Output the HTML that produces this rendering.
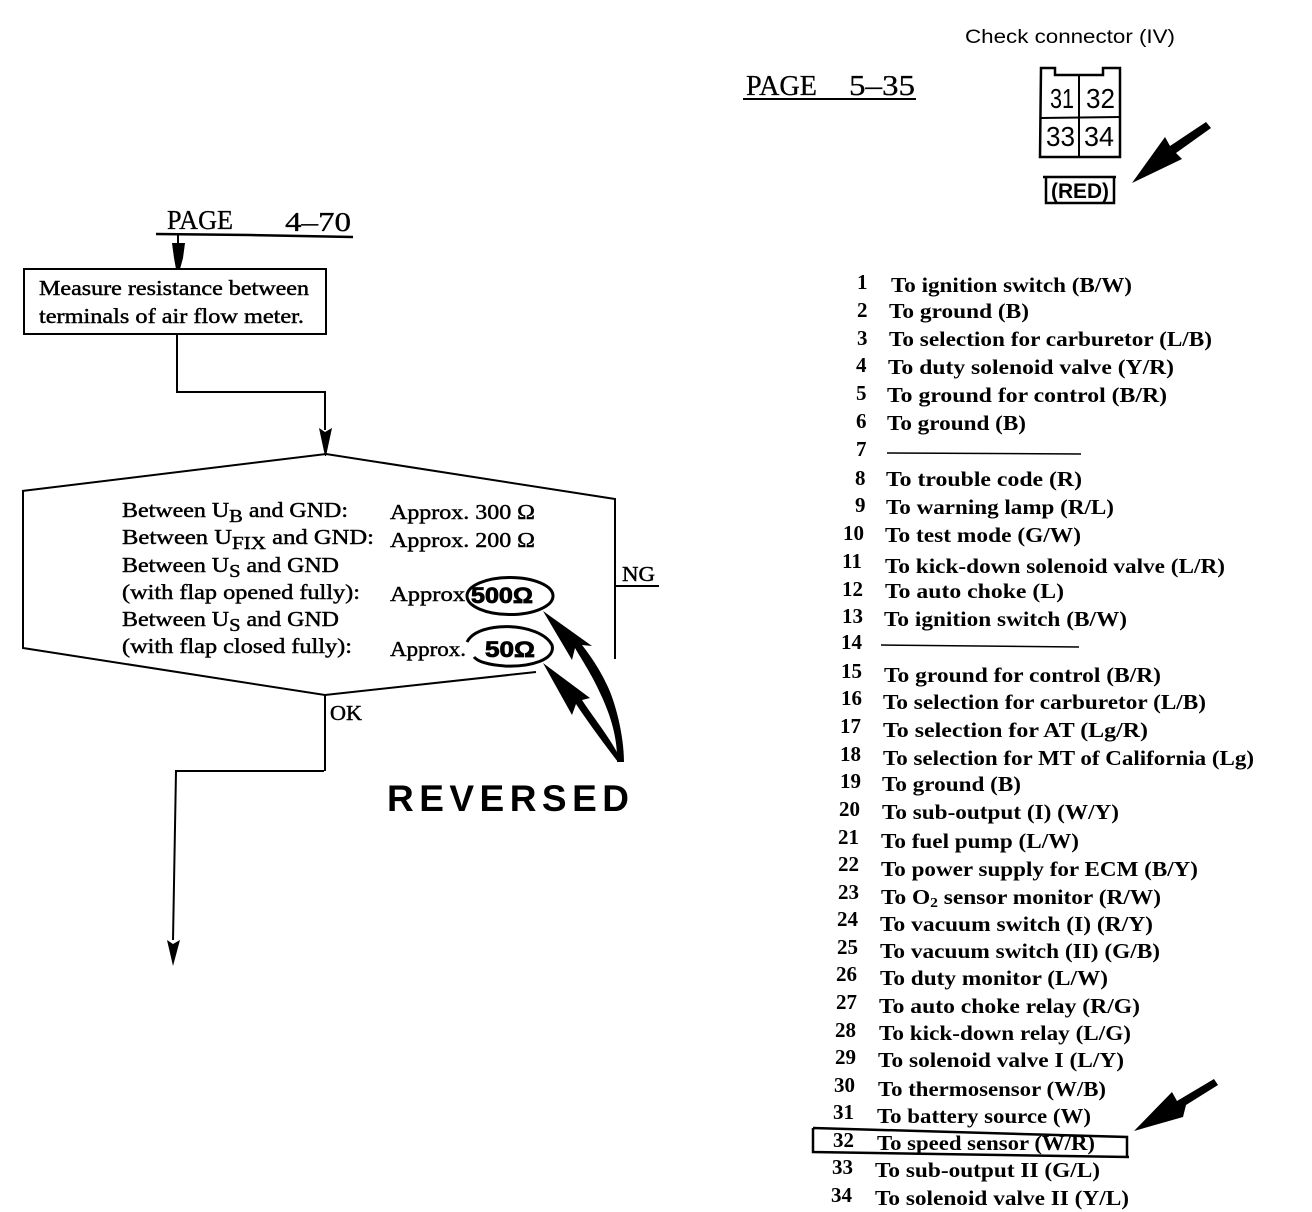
<!DOCTYPE html>
<html><head><meta charset="utf-8"><style>
html,body{margin:0;padding:0;background:#fff}
svg{display:block}
text{font-family:"Liberation Serif",serif;font-size:21px;fill:#000;stroke:none}
.l{font-size:21px;font-weight:bold;transform:translateY(1px)}
.n{font-size:21px;font-weight:bold}
.s{font-family:"Liberation Sans",sans-serif}
.f{font-size:21px;font-weight:normal;stroke:#000;stroke-width:.45px}
.sub{font-size:18px}
path,line,rect,ellipse{fill:none;stroke:#000;stroke-width:2}
.a{fill:#000;stroke:none}
</style></head><body>
<svg width="1312" height="1212" viewBox="0 0 1312 1212" xmlns="http://www.w3.org/2000/svg">
<!-- header right -->
<text class="s" x="965" y="43" style="font-size:19px" textLength="210" lengthAdjust="spacingAndGlyphs">Check connector (IV)</text>
<text x="746" y="95" style="font-size:28px;stroke:#000;stroke-width:.3px" textLength="71" lengthAdjust="spacingAndGlyphs">PAGE</text>
<text x="849" y="95" style="font-size:28px;stroke:#000;stroke-width:.3px" textLength="66" lengthAdjust="spacingAndGlyphs">5–35</text>
<line x1="743" y1="99" x2="916" y2="99"/>
<!-- connector -->
<path d="M1041 68H1055V75H1103V68H1120V157H1040Z" style="stroke-width:2.5"/>
<line x1="1041" y1="118" x2="1120" y2="117"/>
<line x1="1079" y1="76" x2="1079" y2="157"/>
<g style="stroke:#000;stroke-width:.9px">
<text class="s" x="1050" y="108" style="font-size:28px" textLength="24" lengthAdjust="spacingAndGlyphs">31</text>
<text class="s" x="1086" y="108" style="font-size:28px" textLength="29" lengthAdjust="spacingAndGlyphs">32</text>
<text class="s" x="1046" y="146" style="font-size:28px" textLength="29" lengthAdjust="spacingAndGlyphs">33</text>
<text class="s" x="1084" y="146" style="font-size:28px" textLength="30" lengthAdjust="spacingAndGlyphs">34</text>
</g>
<path d="M1043 177H1116M1046 177V203H1114V177" style="stroke-width:2.5"/>
<text class="s" x="1051" y="198" style="font-size:21px;font-weight:bold" textLength="58" lengthAdjust="spacingAndGlyphs">(RED)</text>
<path class="a" d="M1132 183L1165 137L1170 146L1206 122L1211 128L1176 153L1182 159Z"/>
<!-- flowchart -->
<text x="167" y="229" style="font-size:27px;stroke:#000;stroke-width:.3px" textLength="66" lengthAdjust="spacingAndGlyphs">PAGE</text>
<text x="285" y="231" style="font-size:27px;stroke:#000;stroke-width:.3px" textLength="66" lengthAdjust="spacingAndGlyphs">4–70</text>
<path d="M156 234L250 235L353 237" style="stroke-width:2.5"/>
<line x1="178" y1="235" x2="178" y2="248"/>
<path class="a" d="M172 243L185 243L183 258L180 269H176L174 258Z"/>
<rect x="24" y="269" width="302" height="65"/>
<text class="f" x="39" y="295" textLength="270" lengthAdjust="spacingAndGlyphs">Measure resistance between</text>
<text class="f" x="39" y="323" textLength="265" lengthAdjust="spacingAndGlyphs">terminals of air flow meter.</text>
<path d="M177 334V392H325V430"/>
<path class="a" d="M319 428L325 432L332 428L326 456H325Z"/>
<path d="M22 491L326 454L615 499V659"/>
<path d="M23 491V648L325 695L536 672"/>
<line x1="615" y1="586" x2="659" y2="586"/>
<text class="f" x="622" y="581" textLength="33" lengthAdjust="spacingAndGlyphs">NG</text>
<line x1="325" y1="695" x2="325" y2="771"/>
<text class="f" x="330" y="720" textLength="32" lengthAdjust="spacingAndGlyphs">OK</text>
<path d="M324 771L176 771L173 940"/>
<path class="a" d="M167 940L173 944L180 940L173 966Z"/>

<text class="f" x="122" y="517" textLength="226" lengthAdjust="spacingAndGlyphs">Between U<tspan class="sub" dy="5">B</tspan><tspan dy="-5"> and GND:</tspan></text>
<text class="f" x="122" y="544" textLength="252" lengthAdjust="spacingAndGlyphs">Between U<tspan class="sub" dy="5">FIX</tspan><tspan dy="-5"> and GND:</tspan></text>
<text class="f" x="122" y="572" textLength="217" lengthAdjust="spacingAndGlyphs">Between U<tspan class="sub" dy="5">S</tspan><tspan dy="-5"> and GND</tspan></text>
<text class="f" x="122" y="599" textLength="238" lengthAdjust="spacingAndGlyphs">(with flap opened fully):</text>
<text class="f" x="122" y="626" textLength="217" lengthAdjust="spacingAndGlyphs">Between U<tspan class="sub" dy="5">S</tspan><tspan dy="-5"> and GND</tspan></text>
<text class="f" x="122" y="653" textLength="230" lengthAdjust="spacingAndGlyphs">(with flap closed fully):</text>
<text class="f" x="390" y="519" textLength="145" lengthAdjust="spacingAndGlyphs">Approx. 300 Ω</text>
<text class="f" x="390" y="547" textLength="145" lengthAdjust="spacingAndGlyphs">Approx. 200 Ω</text>
<text class="f" x="390" y="601" textLength="75" lengthAdjust="spacingAndGlyphs">Approx</text>
<text class="f" x="390" y="656" textLength="76" lengthAdjust="spacingAndGlyphs">Approx.</text>
<text x="471" y="603" class="s" style="font-size:22px;font-weight:bold;stroke:#000;stroke-width:.8px" textLength="62" lengthAdjust="spacingAndGlyphs">500Ω</text>
<text x="485" y="657" class="s" style="font-size:22px;font-weight:bold;stroke:#000;stroke-width:.8px" textLength="50" lengthAdjust="spacingAndGlyphs">50Ω</text>
<ellipse cx="510" cy="596" rx="43" ry="18.5" style="stroke-width:3"/>
<path d="M467 642C478 620 540 622 552 645C556 660 530 667 505 666C490 665 478 662 474 657" style="stroke-width:3"/>
<!-- big arrows -->
<path class="a" d="M543 611L592 646L582 645C590 655 600 670 606 683C615 700 624 735 624 762L617 762C618 735 608 710 601 695C592 675 585 665 575 648L572 660Z"/>
<path class="a" d="M543 663L590 698L582 700C595 720 612 740 622 762L618 762C605 745 590 725 576 704L572 715Z"/>
<text x="387" y="811" class="s" style="font-size:37px;font-weight:bold" textLength="242">REVERSED</text>

<!-- list -->
<g>
<text class="n" x="857" y="289">1</text><text class="l" x="891" y="291" textLength="241" lengthAdjust="spacingAndGlyphs">To ignition switch (B/W)</text>
<text class="n" x="857" y="317">2</text><text class="l" x="889" y="317" textLength="140" lengthAdjust="spacingAndGlyphs">To ground (B)</text>
<text class="n" x="857" y="345">3</text><text class="l" x="889" y="345" textLength="323" lengthAdjust="spacingAndGlyphs">To selection for carburetor (L/B)</text>
<text class="n" x="856" y="372">4</text><text class="l" x="888" y="373" textLength="286" lengthAdjust="spacingAndGlyphs">To duty solenoid valve (Y/R)</text>
<text class="n" x="856" y="400">5</text><text class="l" x="887" y="401" textLength="280" lengthAdjust="spacingAndGlyphs">To ground for control (B/R)</text>
<text class="n" x="856" y="428">6</text><text class="l" x="887" y="429" textLength="139" lengthAdjust="spacingAndGlyphs">To ground (B)</text>
<text class="n" x="856" y="456">7</text><line x1="887" y1="453" x2="1081" y2="454" style="stroke-width:1.5"/>
<text class="n" x="855" y="485">8</text><text class="l" x="886" y="485" textLength="196" lengthAdjust="spacingAndGlyphs">To trouble code (R)</text>
<text class="n" x="855" y="512">9</text><text class="l" x="886" y="513" textLength="228" lengthAdjust="spacingAndGlyphs">To warning lamp (R/L)</text>
<text class="n" x="843" y="540">10</text><text class="l" x="885" y="541" textLength="196" lengthAdjust="spacingAndGlyphs">To test mode (G/W)</text>
<text class="n" x="842" y="568">11</text><text class="l" x="885" y="572" textLength="340" lengthAdjust="spacingAndGlyphs">To kick-down solenoid valve (L/R)</text>
<text class="n" x="842" y="596">12</text><text class="l" x="885" y="597" textLength="179" lengthAdjust="spacingAndGlyphs">To auto choke (L)</text>
<text class="n" x="842" y="623">13</text><text class="l" x="884" y="625" textLength="243" lengthAdjust="spacingAndGlyphs">To ignition switch (B/W)</text>
<text class="n" x="841" y="649">14</text><line x1="881" y1="645" x2="1079" y2="647" style="stroke-width:1.5"/>
<text class="n" x="841" y="678">15</text><text class="l" x="884" y="681" textLength="277" lengthAdjust="spacingAndGlyphs">To ground for control (B/R)</text>
<text class="n" x="841" y="705">16</text><text class="l" x="883" y="708" textLength="323" lengthAdjust="spacingAndGlyphs">To selection for carburetor (L/B)</text>
<text class="n" x="840" y="733">17</text><text class="l" x="883" y="736" textLength="265" lengthAdjust="spacingAndGlyphs">To selection for AT (Lg/R)</text>
<text class="n" x="840" y="761">18</text><text class="l" x="883" y="764" textLength="371" lengthAdjust="spacingAndGlyphs">To selection for MT of California (Lg)</text>
<text class="n" x="840" y="788">19</text><text class="l" x="882" y="790" textLength="139" lengthAdjust="spacingAndGlyphs">To ground (B)</text>
<text class="n" x="839" y="816">20</text><text class="l" x="882" y="818" textLength="237" lengthAdjust="spacingAndGlyphs">To sub-output (I) (W/Y)</text>
<text class="n" x="838" y="844">21</text><text class="l" x="881" y="847" textLength="198" lengthAdjust="spacingAndGlyphs">To fuel pump (L/W)</text>
<text class="n" x="838" y="871">22</text><text class="l" x="881" y="875" textLength="317" lengthAdjust="spacingAndGlyphs">To power supply for ECM (B/Y)</text>
<text class="n" x="838" y="899">23</text><text class="l" x="881" y="903" textLength="280" lengthAdjust="spacingAndGlyphs">To O<tspan dy="3" style="font-size:14px">2</tspan><tspan dy="-3"> sensor monitor (R/W)</tspan></text>
<text class="n" x="837" y="926">24</text><text class="l" x="880" y="930" textLength="273" lengthAdjust="spacingAndGlyphs">To vacuum switch (I) (R/Y)</text>
<text class="n" x="837" y="954">25</text><text class="l" x="880" y="957" textLength="280" lengthAdjust="spacingAndGlyphs">To vacuum switch (II) (G/B)</text>
<text class="n" x="836" y="981">26</text><text class="l" x="880" y="984" textLength="228" lengthAdjust="spacingAndGlyphs">To duty monitor (L/W)</text>
<text class="n" x="836" y="1009">27</text><text class="l" x="879" y="1012" textLength="261" lengthAdjust="spacingAndGlyphs">To auto choke relay (R/G)</text>
<text class="n" x="835" y="1037">28</text><text class="l" x="879" y="1039" textLength="252" lengthAdjust="spacingAndGlyphs">To kick-down relay (L/G)</text>
<text class="n" x="835" y="1064">29</text><text class="l" x="878" y="1066" textLength="246" lengthAdjust="spacingAndGlyphs">To solenoid valve I (L/Y)</text>
<text class="n" x="834" y="1092">30</text><text class="l" x="878" y="1095" textLength="228" lengthAdjust="spacingAndGlyphs">To thermosensor (W/B)</text>
<text class="n" x="833" y="1119">31</text><text class="l" x="877" y="1122" textLength="214" lengthAdjust="spacingAndGlyphs">To battery source (W)</text>
<text class="n" x="833" y="1147">32</text><text class="l" x="877" y="1149" textLength="218" lengthAdjust="spacingAndGlyphs">To speed sensor (W/R)</text>
<text class="n" x="832" y="1174">33</text><text class="l" x="875" y="1176" textLength="225" lengthAdjust="spacingAndGlyphs">To sub-output II (G/L)</text>
<text class="n" x="831" y="1202">34</text><text class="l" x="875" y="1204" textLength="254" lengthAdjust="spacingAndGlyphs">To solenoid valve II (Y/L)</text>
</g>
<path d="M813 1128L1127 1137L1127 1156M813 1128V1152L1129 1157" style="stroke-width:2.5"/>
<path class="a" d="M1134 1131L1172 1092L1177 1101L1214 1079L1218 1085L1186 1105L1183 1117Z"/>
</svg>
</body></html>
